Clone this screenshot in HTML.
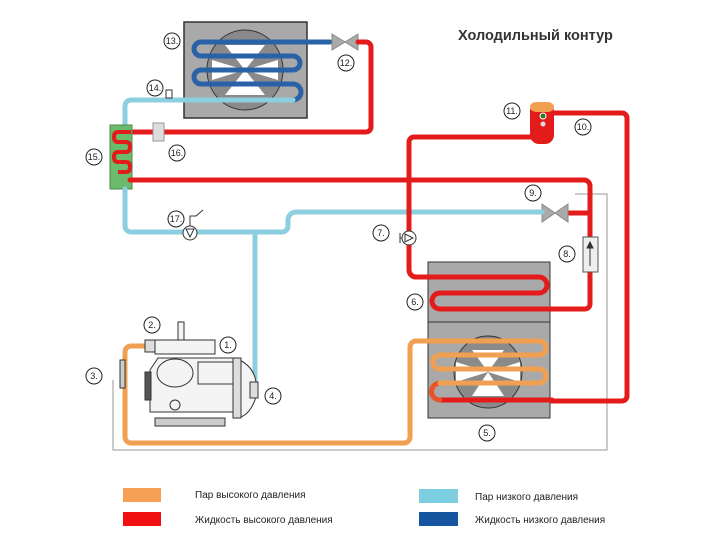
<!DOCTYPE html>
<html><head><meta charset="utf-8"><style>
html,body{margin:0;padding:0;background:#fff;}
svg{display:block;font-family:"Liberation Sans","DejaVu Sans",sans-serif;}
.n{fill:#fff;stroke:#222;stroke-width:1}
.t{font-size:9px;fill:#222;text-anchor:middle}
.p{fill:none;stroke-width:5;stroke-linecap:round;stroke-linejoin:round}
</style></head><body>
<svg width="720" height="540" viewBox="0 0 720 540">
<text x="458" y="40" font-size="14.5" font-weight="bold" fill="#333">Холодильный контур</text>

<path d="M575 194 H607 V450 H113 V380" fill="none" stroke="#999" stroke-width="1"/>

<rect x="184" y="22" width="123" height="96" fill="#a9a9a9" stroke="#333" stroke-width="1.5"/>
<ellipse cx="245" cy="70" rx="38" ry="40" fill="#8a8a8a" stroke="#333"/>
<path d="M245 70 L225 45 L265 45Z M245 70 L225 95 L265 95Z M245 70 L212 60 L212 80Z M245 70 L278 60 L278 80Z" fill="#fff"/>
<path class="p" stroke="#2a62a8" stroke-width="4" d="M330 42 H201 a7 7 0 0 0 0 14 H293 a7 7 0 0 1 0 14 H201 a7 7 0 0 0 0 14 H293 a8 8 0 0 1 0 16"/>
<path class="p" stroke="#8ccfe0" d="M293 100 H131 a6 6 0 0 0 -6 6 V126"/>
<rect x="166" y="90" width="6" height="8" fill="#fff" stroke="#333"/>

<path d="M332 34 L345 42 L332 50Z M358 34 L345 42 L358 50Z" fill="#aaa" stroke="#888"/>
<path class="p" stroke="#e31b1b" d="M358 42 H366 a5 5 0 0 1 5 5 V127 a5 5 0 0 1 -5 5 H128"/>
<rect x="153" y="123" width="11" height="18" fill="#ddd" stroke="#999"/>
<rect x="110" y="125" width="22" height="64" fill="#6cbb6c" stroke="#4a8a4a"/>
<path d="M131 132 H118 q-4 0 -4 5 q0 5 4 5 h8 q4 0 4 5 q0 5 -4 5 h-8 q-4 0 -4 5 q0 5 4 5 h8 q4 0 4 5 q0 5 -4 5 H118" fill="none" stroke="#e31b1b" stroke-width="4"/>
<path class="p" stroke="#e31b1b" d="M130 180 H584 a6 6 0 0 1 6 6 V240"/>
<path class="p" stroke="#e31b1b" d="M568 213 H590"/>
<path d="M542 204 L555 213 L542 222Z M568 204 L555 213 L568 222Z" fill="#aaa" stroke="#888"/>
<path class="p" stroke="#8ccfe0" d="M542 212 H296 a8 8 0 0 0 -8 8 V226 a6 6 0 0 1 -6 6 H131 a6 6 0 0 1 -6 -6 V189"/>
<path class="p" stroke="#8ccfe0" d="M255 232 V384"/>
<circle cx="190" cy="233" r="7" fill="#fff" stroke="#333"/>
<path d="M186 229 L194 229 L190 237Z" fill="none" stroke="#333"/>
<path d="M190 226 V216 H196 L203 210" fill="none" stroke="#333" stroke-width="1"/>

<rect x="530" y="102" width="24" height="42" rx="9" fill="#e31b1b"/>
<rect x="530" y="102" width="24" height="10" rx="6" fill="#f0a050"/>
<circle cx="543" cy="116" r="3" fill="#2a7a2a" stroke="#fff"/>
<circle cx="543" cy="124" r="2.5" fill="#ddd"/>
<path class="p" stroke="#e31b1b" d="M553 113 H622 a5 5 0 0 1 5 5 V396 a5 5 0 0 1 -5 5 H550"/>
<path class="p" stroke="#e31b1b" d="M531 137 H414 a5 5 0 0 0 -5 5 V270 a7 7 0 0 0 7 7"/>

<rect x="428" y="262" width="122" height="60" fill="#a9a9a9" stroke="#333"/>
<rect x="428" y="322" width="122" height="96" fill="#a9a9a9" stroke="#333"/>
<ellipse cx="488" cy="372" rx="34" ry="36" fill="#8a8a8a" stroke="#333"/>
<path d="M488 372 L472 350 L504 350Z M488 372 L472 396 L504 396Z M488 372 L456 362 L456 382Z M488 372 L520 362 L520 382Z" fill="#fff"/>
<path class="p" stroke="#e31b1b" d="M416 277 H539 a8 8 0 0 1 0 16 H440 a8 8 0 0 0 0 16 H585 a5 5 0 0 0 5 -5 V272"/>
<path class="p" stroke="#e31b1b" d="M552 400 H440"/>
<path class="p" stroke="#e8542a" d="M440 383 a8.5 8.5 0 0 0 0 17"/>
<path class="p" stroke="#f0a050" d="M539 341 a7 7 0 0 1 0 14 H440 a7 7 0 0 0 0 14 H539 a7 7 0 0 1 0 14 H440"/>
<path class="p" stroke="#f0a050" d="M539 341 H416 a6 6 0 0 0 -6 6 V437 a6 6 0 0 1 -6 6 H131 a6 6 0 0 1 -6 -6 V352 a6 6 0 0 1 6 -6 H150"/>
<rect x="583" y="237" width="15" height="35" fill="#eee" stroke="#555"/>
<path d="M590 242 L587 248 H593Z M590 248 V266" stroke="#333" fill="#333"/>
<circle cx="409" cy="238" r="7" fill="#fff" stroke="#333"/>
<path d="M405 234 L413 238 L405 242Z" fill="none" stroke="#333"/>
<path d="M400 233 V243 M400 238 H402" stroke="#333"/>

<g stroke="#333" stroke-width="1" fill="#f4f4f4">
<rect x="145" y="340" width="10" height="12" fill="#ddd"/>
<rect x="155" y="340" width="60" height="14"/>
<rect x="178" y="322" width="6" height="18"/>
<rect x="120" y="360" width="5" height="28" fill="#ccc"/>
<path d="M158 358 H235 V412 H150 V370Z"/>
<ellipse cx="175" cy="373" rx="18" ry="14"/>
<rect x="198" y="362" width="38" height="22"/>
<path d="M235 358 Q262 368 255 400 Q248 418 235 418Z"/>
<rect x="233" y="358" width="8" height="60" fill="#ddd"/>
<circle cx="175" cy="405" r="5"/>
<rect x="155" y="418" width="70" height="8" fill="#ccc"/>
<rect x="145" y="372" width="6" height="28" fill="#555"/>
<rect x="250" y="382" width="8" height="16" fill="#ddd"/>
</g>

<g>
<circle class="n" cx="172" cy="41" r="8"/><text class="t" x="172" y="44">13.</text>
<circle class="n" cx="346" cy="63" r="8"/><text class="t" x="346" y="66">12.</text>
<circle class="n" cx="155" cy="88" r="8"/><text class="t" x="155" y="91">14.</text>
<circle class="n" cx="512" cy="111" r="8"/><text class="t" x="512" y="114">11.</text>
<circle class="n" cx="583" cy="127" r="8"/><text class="t" x="583" y="130">10.</text>
<circle class="n" cx="94" cy="157" r="8"/><text class="t" x="94" y="160">15.</text>
<circle class="n" cx="177" cy="153" r="8"/><text class="t" x="177" y="156">16.</text>
<circle class="n" cx="533" cy="193" r="8"/><text class="t" x="533" y="196">9.</text>
<circle class="n" cx="176" cy="219" r="8"/><text class="t" x="176" y="222">17.</text>
<circle class="n" cx="381" cy="233" r="8"/><text class="t" x="381" y="236">7.</text>
<circle class="n" cx="567" cy="254" r="8"/><text class="t" x="567" y="257">8.</text>
<circle class="n" cx="415" cy="302" r="8"/><text class="t" x="415" y="305">6.</text>
<circle class="n" cx="152" cy="325" r="8"/><text class="t" x="152" y="328">2.</text>
<circle class="n" cx="228" cy="345" r="8"/><text class="t" x="228" y="348">1.</text>
<circle class="n" cx="94" cy="376" r="8"/><text class="t" x="94" y="379">3.</text>
<circle class="n" cx="273" cy="396" r="8"/><text class="t" x="273" y="399">4.</text>
<circle class="n" cx="487" cy="433" r="8"/><text class="t" x="487" y="436">5.</text>
</g>

<rect x="123" y="488" width="38" height="14" fill="#f5a055"/>
<rect x="123" y="512" width="38" height="14" fill="#f01010"/>
<rect x="419" y="489" width="39" height="14" fill="#7ccfe0"/>
<rect x="419" y="512" width="39" height="14" fill="#1656a0"/>
<g font-size="10" fill="#222">
<text x="195" y="498">Пар высокого давления</text>
<text x="195" y="523">Жидкость высокого давления</text>
<text x="475" y="500">Пар низкого давления</text>
<text x="475" y="523">Жидкость низкого давления</text>
</g>
</svg>
</body></html>
